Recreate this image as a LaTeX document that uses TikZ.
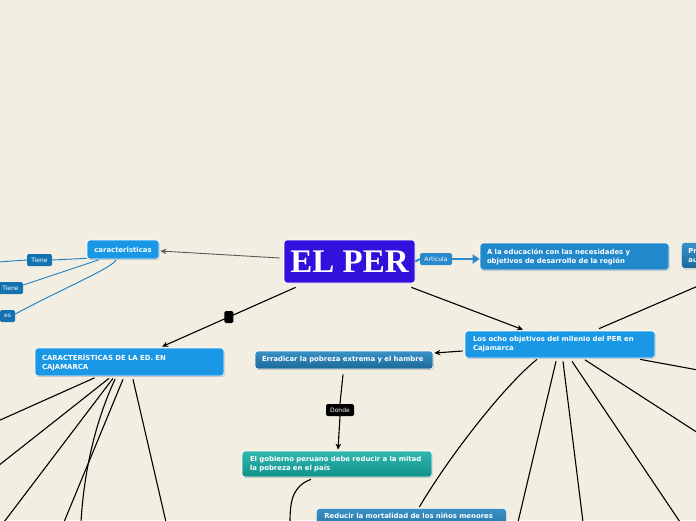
\documentclass[tikz,border=0pt]{standalone}
\usepackage{fontspec}
\setmainfont{DejaVu Sans}
\newfontfamily\perfont{Liberation Serif}
\usetikzlibrary{arrows.meta,calc,shadows}
\definecolor{bg}{HTML}{F3EEE2}
\definecolor{perblue}{HTML}{3311DD}
\definecolor{boxblue}{HTML}{1A98E6}
\definecolor{edublue}{HTML}{2288CC}
\definecolor{labblue}{HTML}{1572B0}
\definecolor{artblue}{HTML}{2A8ACB}
\definecolor{linkblue}{HTML}{1A7CC0}
\definecolor{gtop}{HTML}{3A92C6}
\definecolor{gbot}{HTML}{1A6898}
\definecolor{ttop}{HTML}{30B8B0}
\definecolor{tbot}{HTML}{12908A}
\tikzset{
  basebox/.style={rounded corners=3pt, draw=white, line width=0.7pt, text=white,
    font=\bfseries\fontsize{6.9}{9}\selectfont, inner xsep=7pt, inner ysep=0pt,
    align=left, drop shadow={shadow xshift=0.6pt, shadow yshift=-0.9pt, opacity=0.25, fill=black}},
  flatbox/.style={basebox, fill=boxblue},
  edubox/.style={basebox, fill=edublue},
  gradbox/.style={basebox, top color=gtop, bottom color=gbot},
  tealbox/.style={basebox, top color=ttop, bottom color=tbot},
  tag/.style={rounded corners=1.5pt, fill=labblue, text=white, font=\fontsize{6}{7}\selectfont,
    inner sep=0pt, minimum height=12pt},
  blk/.style={line width=1.1pt, black},
  blkarrow/.style={blk, -{Stealth[length=6pt,width=5.5pt]}},
  bluelink/.style={line width=0.9pt, linkblue},
}
\begin{document}
\begin{tikzpicture}[x=1pt,y=-1pt]
\useasboundingbox (0,0) rectangle (696,520);
\fill[bg] (0,0) rectangle (696,520);
\clip (0,0) rectangle (696,520);

% main node
\node[rounded corners=3pt, fill=perblue, draw=white, line width=0.7pt, text=white,
  minimum width=131pt, minimum height=43pt, inner sep=0pt,
  font=\perfont\bfseries\fontsize{33}{33}\selectfont] (per) at (349.5,261.5) {EL PER};

% boxes
\node[flatbox, minimum width=72pt, minimum height=19pt, inner xsep=0pt, align=center] (car) at (123,249.5) {caracteristicas};
\node[edubox, text width=175pt, minimum height=27pt] (edu) at (574.5,256.5)
  {A la educación con las necesidades y\\objetivos de desarrollo de la región};
\node[gradbox, anchor=north west, text width=30pt, minimum height=26pt] (pr) at (681,242) {Pr\\au};
\node[flatbox, text width=175pt, minimum height=28pt] (cae) at (129.5,362)
  {CARACTERÍSTICAS DE LA ED. EN\\CAJAMARCA};
\node[flatbox, text width=174pt, inner xsep=8pt, minimum height=27pt] (ocho) at (560,344.5)
  {Los ocho objetivos del milenio del PER en\\Cajamarca};
\node[gradbox, text width=164pt, minimum height=18pt] (err) at (344,360)
  {Erradicar la pobreza extrema y el hambre};
\node[tealbox, text width=174pt, inner xsep=8pt, minimum height=26pt] (gob) at (337,464)
  {El gobierno peruano debe reducir a la mitad\\la pobreza en el país};
\node[gradbox, anchor=north west, text width=174pt, minimum height=24pt, inner xsep=8pt,
  inner ysep=5pt] (red) at (316,508)
  {Reducir la mortalidad de los niños menores\\\strut};

% tags
\node[tag, minimum width=25pt] (t1) at (39.5,260) {Tiene};
\node[tag, minimum width=25pt] (t2) at (10.5,288) {Tiene};
\node[tag, minimum width=15pt] (es) at (7.5,316) {es};
\node[tag, fill=artblue, minimum width=32pt] (art) at (436,259) {Articula};
\node[tag, fill=black, minimum width=28pt] (don) at (340,410) {Donde};

% free ends
\coordinate (e1) at (-2,262);
\coordinate (r1) at (698,286);
\coordinate (gobend) at (290,522);
\coordinate (o1) at (518,522);
\coordinate (o2) at (583,522);
\coordinate (o3) at (680,522);
\coordinate (o4) at (698,433);
\coordinate (o5) at (698,370);
\coordinate (c1) at (-2,421);
\coordinate (c2) at (-2,466);
\coordinate (c3) at (4,522);
\coordinate (c4) at (81,522);
\coordinate (c5) at (64,522);
\coordinate (c6) at (166,522);

% EL PER -> caracteristicas
\draw[line width=0.9pt, color=black!65, -{Stealth[length=6pt,width=5.5pt]}]
  ($(per.west)+(-4,-3.5)$) -- ($(car.east)+(1,1.5)$);
% caracteristicas -> tags
\draw[bluelink] ($(car.south west)+(0,-1)$) -- (t1.east);
\draw[bluelink] (t1.west) -- (e1);
\draw[bluelink] ($(car.south west)+(12,0.5)$) -- ($(t2.east)+(0,-3)$);
\draw[bluelink] ($(car.south)+(-7,0.5)$) .. controls (112,268) and (70,285) .. ($(es.east)+(0,-2)$);

% Articula
\draw[line width=2pt, artblue] (per.east) -- (art.west);
\draw[line width=2pt, artblue, -{Triangle[length=7pt,width=9pt]}] (art.east) -- ($(edu.west)+(0,2.5)$);

% EL PER -> CARACTERISTICAS with marker
\draw[blkarrow] ($(per.south west)+(12,4)$) -- node[pos=0.5, fill=black, rounded corners=1.5pt,
  minimum width=9pt, minimum height=12pt, inner sep=0pt] (mk) {} ($(cae.north)+(32.5,-1)$);
% EL PER -> ocho
\draw[blkarrow] ($(per.south east)+(-4,4)$) -- ($(ocho.north)+(-37,-1)$);
% right edge -> ocho
\draw[blk] (r1) -- ($(ocho.north)+(39,-2)$);
% ocho -> erradicar
\draw[blkarrow] ($(ocho.west)+(-2,6.5)$) -- ($(err.east)+(1,-7)$);
% erradicar -> gobierno
\draw[blk] ($(err.south)+(-1,5)$) -- (don.north);
\draw[blkarrow] (don.south) -- ($(gob.north)+(1,-1)$);
% gobierno down
\draw[blk] ($(gob.south)+(-26,2)$) .. controls (293,486) and (290,500) .. (gobend);
% ocho -> reducir
\draw[blk] ($(ocho.south)+(-23,1)$) .. controls (505,385) and (450,455) .. ($(red.north)+(8,-1)$);
% ocho -> off canvas
\draw[blk] ($(ocho.south)+(-4,3)$) -- (o1);
\draw[blk] ($(ocho.south)+(3,3)$) -- (o2);
\draw[blk] ($(ocho.south)+(12,3)$) -- (o3);
\draw[blk] ($(ocho.south)+(25,1.5)$) -- (o4);
\draw[blk] ($(ocho.south)+(80,1)$) -- (o5);
% CARACTERISTICAS -> off canvas
\draw[blk] ($(cae.south)+(-35,1.5)$) -- (c1);
\draw[blk] ($(cae.south)+(-20.5,2)$) -- (c2);
\draw[blk] ($(cae.south)+(-16.5,2)$) -- (c3);
\draw[blk] ($(cae.south)+(-14.5,3)$) .. controls (96,420) and (84,470) .. (c4);
\draw[blk] ($(cae.south)+(-6.5,3)$) -- (c5);
\draw[blk] ($(cae.south)+(3.5,3)$) -- (c6);
\end{tikzpicture}
\end{document}
